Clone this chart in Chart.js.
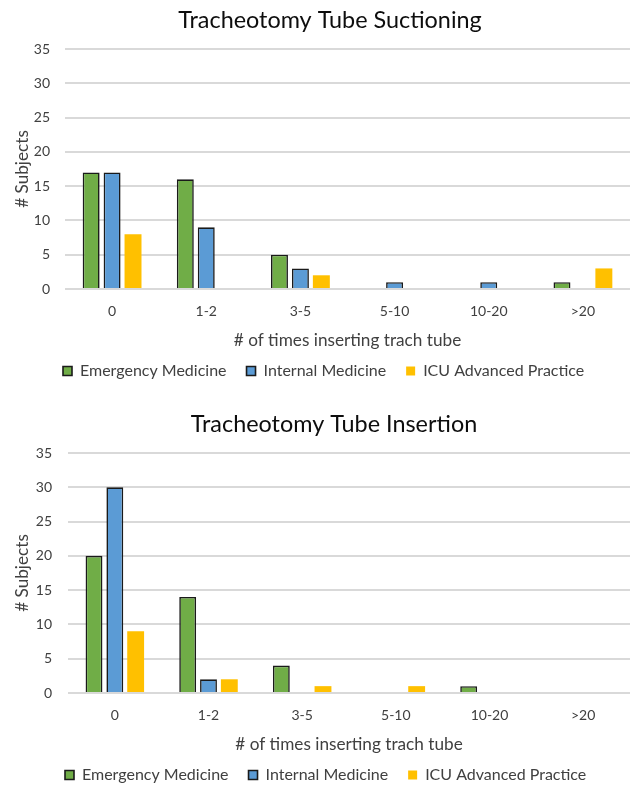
<!DOCTYPE html>
<html><head><meta charset="utf-8">
<script src="https://cdn.jsdelivr.net/npm/chart.js@4"></script>
<style>
html,body{margin:0;padding:0;background:#fff;overflow:hidden;width:630px;height:788px;position:relative}
.w{position:absolute;left:0;width:630px;height:404px}
</style></head><body>
<div class="w" style="top:0"><canvas id="c1"></canvas></div>
<div class="w" style="top:404px"><canvas id="c2"></canvas></div>
<script>
const categories = ['0', '1-2', '3-5', '5-10', '10-20', '>20'];
const seriesNames = ['Emergency Medicine', 'Internal Medicine', 'ICU Advanced Practice'];
const suctionEM  = [17, 16, 5, 0, 0, 1];
const suctionIM  = [17, 9, 3, 1, 1, 0];
const suctionICU = [8, 0, 2, 0, 0, 3];
const insertEM   = [20, 14, 4, 0, 1, 0];
const insertIM   = [30, 2, 0, 0, 0, 0];
const insertICU  = [9, 2, 1, 1, 0, 0];
const yMin = 0, yMax = 35, yStep = 5;
const xTitle = '# of times inserting trach tube';
const yTitle = '# Subjects';

const FONT = 'Lato';
const TITLE_FS = 23.4, TICK_FS = 14, AX_FS = 17.2, LEG_FS = 16;
const LEG_PAD = 20;
const H = 404;

// shifts the title / legend boxes horizontally after the library has laid them out
const shiftPlugin = {
  id: 'shift',
  afterLayout(chart, args, opts) {
    const tb = chart.titleBlock;
    if (tb) tb.left = 2 * opts.titleCenter - tb.right;
    const lg = chart.legend;
    if (lg) { lg.left = opts.legendStart - LEG_PAD; lg.right = lg.left + 900; }
  }
};

function build(id, titleText, em, im, icu, plotLeft, tickPad, titleCenter, legendStart) {
  const tlh = TITLE_FS * 1.2, alh = AX_FS * 1.2;
  const legTop = 371 - LEG_PAD - LEG_FS / 2;
  const legH = LEG_FS + LEG_PAD + 10;
  const xH = legTop - 289;
  const colors = ['#70AD47', '#5B9BD5', '#FFC000'];
  const borders = ['#1a1a1a', '#1a1a1a', '#FFC000'];
  const bw = [1.6, 1.6, 0];
  const data = [em, im, icu];
  new Chart(document.getElementById(id), {
    type: 'bar',
    data: {
      labels: categories,
      datasets: seriesNames.map((n, i) => ({
        label: n, data: data[i], backgroundColor: colors[i],
        borderColor: borders[i], borderWidth: bw[i],
        categoryPercentage: 0.667, barPercentage: 0.81
      }))
    },
    plugins: [shiftPlugin],
    options: {
      responsive: true, maintainAspectRatio: false, animation: false, devicePixelRatio: 1,
      layout: { padding: { left: 0, right: -2, top: 0, bottom: H - legTop - legH } },
      plugins: {
        shift: { titleCenter: titleCenter, legendStart: legendStart },
        tooltip: { enabled: false },
        title: {
          display: true, text: titleText, color: '#0d0d0d',
          font: { family: FONT, size: TITLE_FS, weight: 'normal', lineHeight: 1.2 },
          padding: { top: 20 - tlh / 2, bottom: 49 - (20 + tlh / 2) }
        },
        legend: {
          position: 'bottom', align: 'start',
          labels: {
            boxWidth: 9, boxHeight: 9, padding: LEG_PAD, color: '#404040',
            font: { family: FONT, size: LEG_FS }
          }
        }
      },
      scales: {
        x: {
          grid: { display: false, drawTicks: false },
          border: { display: false },
          ticks: { color: '#404040', font: { family: FONT, size: TICK_FS }, padding: 14, maxRotation: 0 },
          title: {
            display: true, text: xTitle, color: '#404040',
            font: { family: FONT, size: AX_FS, lineHeight: 1.2 },
            padding: { top: 0, bottom: (legTop - 340) - alh / 2 }
          },
          afterFit: s => { s.height = xH; }
        },
        y: {
          min: yMin, max: yMax,
          grid: { color: '#d9d9d9', lineWidth: 2, drawTicks: false },
          border: { display: false },
          ticks: { stepSize: yStep, color: '#404040', font: { family: FONT, size: TICK_FS }, padding: tickPad },
          title: {
            display: true, text: yTitle, color: '#404040',
            font: { family: FONT, size: AX_FS, lineHeight: 1.2 },
            padding: { top: 22 - alh / 2, bottom: 0 }
          },
          afterFit: s => { s.width = plotLeft; }
        }
      }
    }
  });
}
build('c1', 'Tracheotomy Tube Suctioning', suctionEM, suctionIM, suctionICU, 65, 15, 330, 63);
build('c2', 'Tracheotomy Tube Insertion', insertEM, insertIM, insertICU, 68, 16, 334, 65);
</script>
</body></html>
